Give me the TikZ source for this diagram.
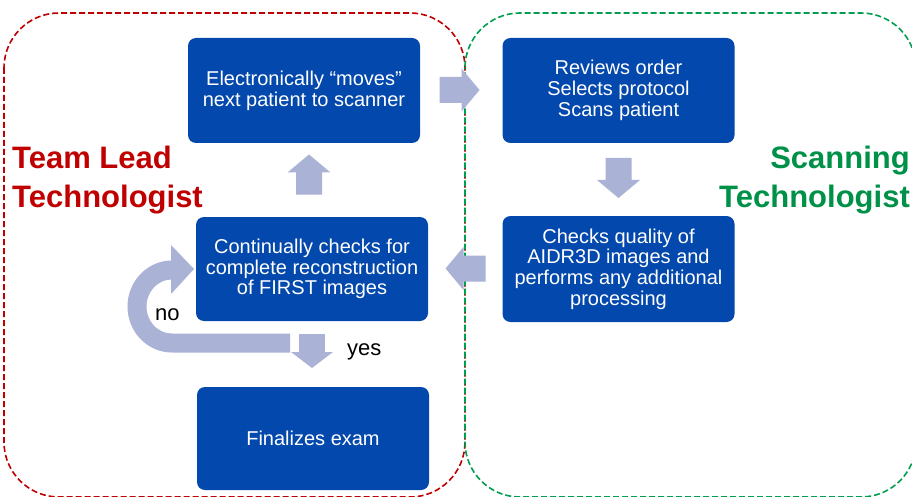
\documentclass[tikz,border=0pt]{standalone}
\usepackage{fontspec}
\setmainfont{Liberation Sans}
\definecolor{boxblue}{RGB}{3,72,172}
\definecolor{arrowfill}{RGB}{170,178,214}
\definecolor{leadred}{RGB}{192,0,0}
\definecolor{scangreen}{RGB}{0,145,72}
\definecolor{scanline}{RGB}{0,158,78}
\tikzset{
  stepbox/.style={rectangle, rounded corners=8pt, fill=boxblue, text=white,
    align=center, minimum width=232pt, minimum height=105pt, inner sep=0pt,
    font=\fontsize{20}{20.7}\selectfont},
  lanetitle/.style={inner sep=0pt, font=\bfseries\fontsize{31}{39}\selectfont},
  lanebox/.style={rounded corners=55pt, line width=1.6pt, dash pattern=on 6pt off 3pt},
  answer/.style={inner sep=0pt, anchor=base west, font=\fontsize{22}{22}\selectfont},
  blockarrow/.pic={\fill[arrowfill] (-20,-13) -- (2,-13) -- (2,-21.5) -- (20,0)
    -- (2,21.5) -- (2,13) -- (-20,13) -- cycle;}
}
\begin{document}
\begin{tikzpicture}[x=1pt,y=-1pt]
  \fill[white] (0,0) rectangle (912,497);
  \useasboundingbox (0,0) rectangle (912,497);

  % swim lanes
  \draw[lanebox, leadred] (4,13) rectangle (465,497);
  \draw[lanebox, scanline, dash phase=4.5pt] (465,13) rectangle (916,497);

  \node[lanetitle, text=leadred, align=left, anchor=west] (leadlbl) at (12,180)
    {Team Lead\\Technologist};
  \node[lanetitle, text=scangreen, align=right, anchor=east] (scanlbl) at (910,180)
    {Scanning\\Technologist};

  % process steps
  \node[stepbox] (b1) at (304,90.5) {Electronically “moves”\\next patient to scanner};
  \node[stepbox] (b2) at (618.5,90.5) {Reviews order\\Selects protocol\\Scans patient};
  \node[stepbox, minimum height=106pt] (b3) at (618.5,269)
    {Checks quality of\\AIDR3D images and\\performs any additional\\processing};
  \node[stepbox, minimum height=104pt] (b4) at (312,269)
    {Continually checks for\\complete reconstruction\\of FIRST images};
  \node[stepbox, minimum height=103pt] (b5) at (313,438.5) {Finalizes exam};

  % block arrows between steps (rotation is counter-clockwise on the page)
  \coordinate (a12) at (459.5,90);
  \coordinate (a23) at (618.5,178);
  \coordinate (a34) at (465.5,268.5);
  \coordinate (a41) at (309,174.5);
  \pic at (a12) {blockarrow};
  \pic[rotate=-90] at (a23) {blockarrow};
  \pic[rotate=180] at (a34) {blockarrow};
  \pic[rotate=90] at (a41) {blockarrow};

  % loop back ("no") and exit ("yes")
  \draw[arrowfill, line width=19pt] (172,270)
    arc[start angle=270, end angle=90, x radius=35, y radius=36.5] -- (290,343);
  \fill[arrowfill] (171,245) -- (194,269) -- (171,294) -- cycle;
  \fill[arrowfill] (299,334) rectangle (325,352);
  \fill[arrowfill] (291,352) -- (333,352) -- (312,368) -- cycle;

  \node[answer] (nolbl) at (155,320) {no};
  \node[answer] (yeslbl) at (347,355) {yes};
\end{tikzpicture}
\end{document}
